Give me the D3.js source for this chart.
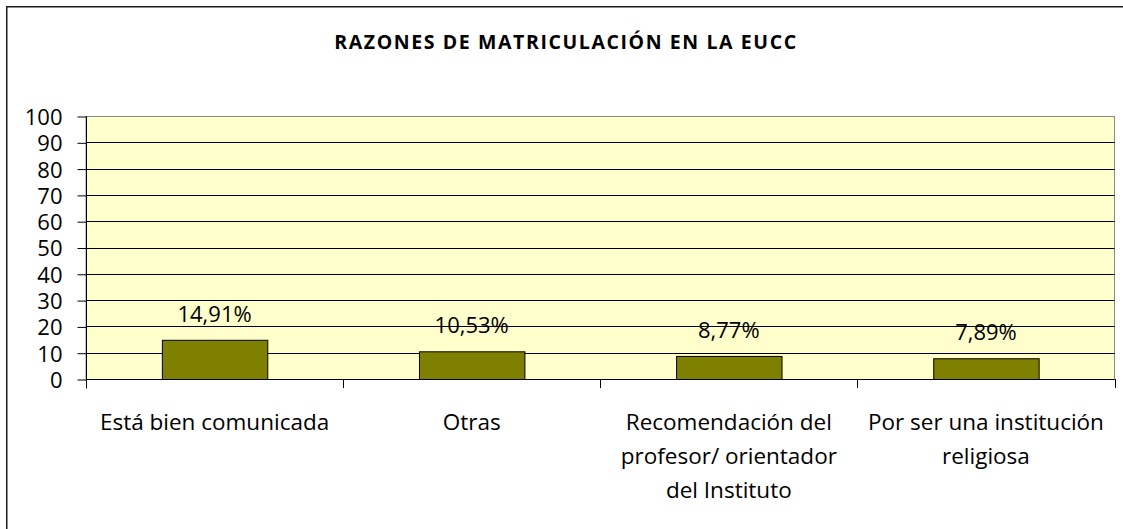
<!DOCTYPE html>
<html>
<head>
<meta charset="utf-8">
<script src="https://cdn.jsdelivr.net/npm/d3@7"></script>
<style>
  html, body { margin: 0; padding: 0; background: #ffffff; }
  svg { display: block; }
</style>
</head>
<body>
<script>
const categories = [
  "Está bien comunicada",
  "Otras",
  "Recomendación del profesor/ orientador del Instituto",
  "Por ser una institución religiosa",
];
const categoryLines = [
  ["Está bien comunicada"],
  ["Otras"],
  ["Recomendación del", "profesor/ orientador", "del Instituto"],
  ["Por ser una institución", "religiosa"],
];
const values = [14.91, 10.53, 8.77, 7.89];
const valueLabels = ["14,91%", "10,53%", "8,77%", "7,89%"];
const yTicks = [0, 10, 20, 30, 40, 50, 60, 70, 80, 90, 100];
const title = "RAZONES DE MATRICULACIÓN EN LA EUCC";

const width = 1123;
const height = 529;
const plot = { left: 86, right: 1114.5, top: 116, bottom: 379 };
const font = "'Open Sans', 'Noto Sans', Arial, sans-serif";

const svg = d3
  .select("body")
  .append("svg")
  .attr("width", width)
  .attr("height", height)
  .attr("viewBox", `0 0 ${width} ${height}`);

// outer chart frame (only left/top visible in the crop)
svg
  .append("rect")
  .attr("x", 6.75)
  .attr("y", 6.75)
  .attr("width", width + 20)
  .attr("height", height + 20)
  .attr("fill", "#ffffff")
  .attr("stroke", "#1a1a1a")
  .attr("stroke-width", 1.5);

svg
  .append("text")
  .attr("x", 566)
  .attr("y", 49)
  .attr("text-anchor", "middle")
  .attr("fill", "#000000")
  .attr("font-family", font)
  .attr("font-size", 19.5)
  .attr("font-weight", 700)
  .attr("letter-spacing", 1.6)
  .text(title);

const x = d3
  .scaleBand()
  .domain(categories)
  .range([plot.left, plot.right])
  .paddingInner(0.59)
  .paddingOuter(0.295);

const y = d3.scaleLinear().domain([0, 100]).range([plot.bottom, plot.top]);

// plot area
svg
  .append("rect")
  .attr("x", plot.left)
  .attr("y", plot.top + 0.5)
  .attr("width", plot.right - plot.left)
  .attr("height", plot.bottom - plot.top)
  .attr("fill", "#ffffcc")
  .attr("stroke", "#8a8a8a")
  .attr("stroke-width", 1);

// gridlines
svg
  .append("g")
  .selectAll("line")
  .data(yTicks.filter((t) => t > 0 && t < 100))
  .join("line")
  .attr("x1", plot.left)
  .attr("x2", plot.right)
  .attr("y1", (d) => Math.round(y(d)) + 0.5)
  .attr("y2", (d) => Math.round(y(d)) + 0.5)
  .attr("stroke", "#000000")
  .attr("stroke-width", 1);

// bars
svg
  .append("g")
  .selectAll("rect")
  .data(values)
  .join("rect")
  .attr("x", (d, i) => x(categories[i]) + 0.5)
  .attr("y", (d) => y(d) + 0.5)
  .attr("width", x.bandwidth())
  .attr("height", (d) => y(0) - y(d))
  .attr("fill", "#808000")
  .attr("stroke", "#000000")
  .attr("stroke-width", 1);

// value labels
svg
  .append("g")
  .selectAll("text")
  .data(values)
  .join("text")
  .attr("x", (d, i) => x(categories[i]) + x.bandwidth() / 2)
  .attr("y", (d) => y(d) - 18)
  .attr("text-anchor", "middle")
  .attr("fill", "#000000")
  .attr("font-family", font)
  .attr("font-size", 22)
  .text((d, i) => valueLabels[i]);

// y axis
const yAxis = svg
  .append("g")
  .attr("transform", `translate(${plot.left + 0.5},0.5)`)
  .call(d3.axisLeft(y).tickValues(yTicks).tickSize(9).tickPadding(15));
yAxis.select(".domain").attr("d", `M0,${plot.top}V${plot.bottom + 9}`).attr("stroke", "#000000");
yAxis.selectAll(".tick line").attr("stroke", "#000000");
yAxis
  .selectAll(".tick text")
  .attr("fill", "#000000")
  .attr("font-family", font)
  .attr("font-size", 22)
  .attr("dy", "0.36em");

// x axis line + boundary ticks
const bounds = d3.range(categories.length + 1).map(
  (i) => plot.left + (i * (plot.right - plot.left)) / categories.length
);
svg
  .append("line")
  .attr("x1", plot.left)
  .attr("x2", plot.right)
  .attr("y1", plot.bottom + 0.5)
  .attr("y2", plot.bottom + 0.5)
  .attr("stroke", "#000000");
svg
  .append("g")
  .selectAll("line")
  .data(bounds)
  .join("line")
  .attr("x1", (d) => Math.round(d) + 0.5)
  .attr("x2", (d) => Math.round(d) + 0.5)
  .attr("y1", plot.bottom)
  .attr("y2", plot.bottom + 9)
  .attr("stroke", "#000000");

// category labels
const catGroups = svg
  .append("g")
  .selectAll("text")
  .data(categories)
  .join("text")
  .attr("x", (d) => x(d) + x.bandwidth() / 2)
  .attr("y", 430)
  .attr("text-anchor", "middle")
  .attr("fill", "#000000")
  .attr("font-family", font)
  .attr("font-size", 22.5);

catGroups
  .selectAll("tspan")
  .data((d, i) => categoryLines[i])
  .join("tspan")
  .attr("x", function () {
    return this.parentNode.getAttribute("x");
  })
  .attr("dy", (d, j) => (j === 0 ? 0 : 34))
  .text((d) => d);
</script>
</body>
</html>
